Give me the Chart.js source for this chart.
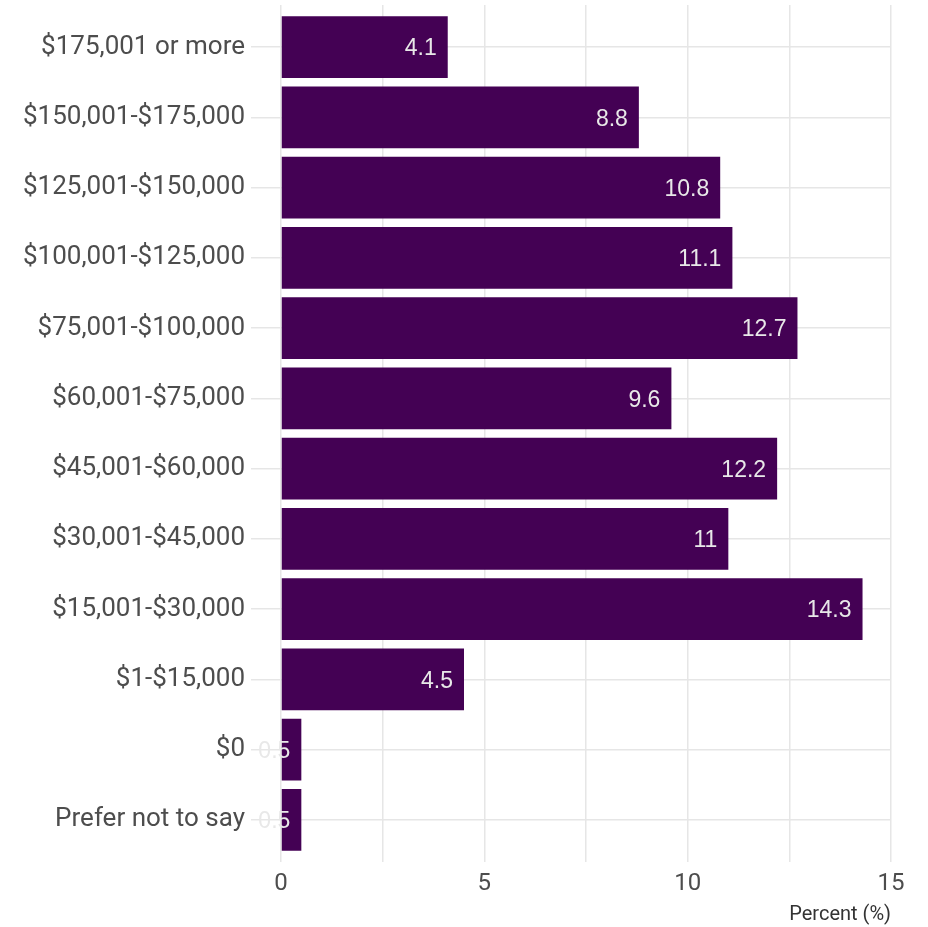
<!DOCTYPE html>
<html>
<head>
<meta charset="utf-8">
<script src="https://cdn.jsdelivr.net/npm/chart.js@4"></script>
<style>
  body { margin: 0; background: #fff; }
  canvas { display: block; }
</style>
</head>
<body>
<canvas id="ingresos" width="928" height="927"></canvas>
<script>
const categorias = [
  '$175,001 or more', '$150,001-$175,000', '$125,001-$150,000', '$100,001-$125,000',
  '$75,001-$100,000', '$60,001-$75,000', '$45,001-$60,000', '$30,001-$45,000',
  '$15,001-$30,000', '$1-$15,000', '$0', 'Prefer not to say'
];
const porcentajes = [4.1, 8.8, 10.8, 11.1, 12.7, 9.6, 12.2, 11, 14.3, 4.5, 0.5, 0.5];
const ticksX = [0, 5, 10, 15];

const GRID = '#e6e6e6';

// etiquetas de valor dentro de cada barra, alineadas al final
const etiquetasValor = {
  id: 'etiquetasValor',
  afterDatasetsDraw(chart) {
    const ctx = chart.ctx;
    const meta = chart.getDatasetMeta(0);
    ctx.save();
    ctx.font = '23px "Liberation Sans", Arial, sans-serif';
    ctx.fillStyle = '#e8e8e8';
    ctx.textAlign = 'right';
    ctx.textBaseline = 'middle';
    meta.data.forEach((bar, i) => {
      ctx.fillText(String(porcentajes[i]), bar.x - 11, bar.y + 2);
    });
    ctx.restore();
  }
};

Chart.defaults.font.family = 'Roboto, sans-serif';

new Chart(document.getElementById('ingresos').getContext('2d'), {
  type: 'bar',
  data: {
    datasets: [{
      data: porcentajes.map((v, i) => ({ x: v, y: i })),
      backgroundColor: '#440154',
      borderWidth: 0,
      barPercentage: 0.88,
      categoryPercentage: 1
    }]
  },
  options: {
    indexAxis: 'y',
    responsive: false,
    animation: false,
    layout: { padding: { top: 5, right: 37, left: 0, bottom: 0 } },
    scales: {
      x: {
        type: 'linear',
        min: 0,
        max: 15,
        border: { display: false },
        grid: { color: GRID, lineWidth: 1.5, drawTicks: false },
        ticks: {
          stepSize: 2.5,
          padding: 8,
          color: '#4d4d4d',
          font: { size: 24 },
          callback: v => ticksX.includes(v) ? v : ''
        },
        title: {
          display: true,
          text: 'Percent (%)',
          align: 'end',
          color: '#333',
          font: { size: 20 },
          padding: { top: 2, bottom: 0 }
        },
        afterFit: s => { s.height = 65; }
      },
      y: {
        type: 'linear',
        reverse: true,
        offset: false,
        min: -0.6,
        max: 11.6,
        border: { display: false },
        grid: { color: GRID, lineWidth: 1.5, tickLength: 30, offset: false },
        afterBuildTicks: s => { s.ticks = categorias.map((_, i) => ({ value: i })); },
        ticks: {
          autoSkip: false,
          padding: 6,
          color: '#4d4d4d',
          font: { size: 26 },
          callback: v => categorias[v]
        },
        afterFit: s => {
          s.width = 281;
          s.paddingTop = 0;
          s.paddingBottom = 0;
        }
      }
    },
    plugins: {
      legend: { display: false },
      tooltip: { enabled: false }
    }
  },
  plugins: [etiquetasValor]
});
</script>
</body>
</html>
